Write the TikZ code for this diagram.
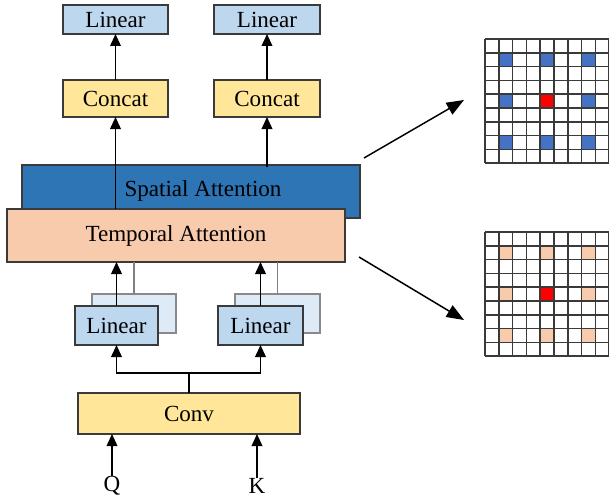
\documentclass[tikz,border=0pt]{standalone}
\usepackage{fontspec}
\setmainfont{Liberation Serif}
\usetikzlibrary{arrows.meta,calc}
\definecolor{linblue}{HTML}{BDD7EE}
\definecolor{linback}{HTML}{DEEBF7}
\definecolor{catyel}{HTML}{FFE699}
\definecolor{spblue}{HTML}{2E75B6}
\definecolor{tmpeach}{HTML}{F8CBAD}
\definecolor{cellblue}{HTML}{4472C4}
\definecolor{cellpeach}{HTML}{F8CBAD}
\definecolor{edge}{HTML}{3A3A3A}
\tikzset{
  sz/.style 2 args={minimum width=#1*0.75pt,minimum height=#2*0.75pt},
  box/.style={draw=edge,line width=0.8pt,inner sep=0pt,outer sep=0pt,
    font=\fontsize{17.3}{20}\selectfont,anchor=center},
  linbox/.style={box,fill=linblue},
  backbox/.style={draw=edge!60,line width=0.8pt,fill=linback,inner sep=0pt,outer sep=0pt},
  catbox/.style={box,fill=catyel},
  arr/.style={line width=1.1pt,-{Triangle[length=9pt,width=8pt]}},
  bigarr/.style={line width=1.1pt,-{Triangle[length=13pt,width=10pt]}},
  plain/.style={line width=1.1pt},
  grayline/.style={line width=1.1pt,draw=gray},
  gridline/.style={line width=1.2pt,draw=edge},
  lbl/.style={font=\fontsize{17.3}{20}\selectfont,inner sep=0pt}
}
\begin{document}
\begin{tikzpicture}[x=0.75pt,y=-0.75pt]
\useasboundingbox (0,0) rectangle (609,499);

% output heads
\node[linbox,sz={105}{29}] (lin1) at (115.5,19.5) {Linear};
\node[linbox,sz={106}{29}] (lin2) at (267,19.5) {Linear};
\node[catbox,sz={105}{37}] (cat1) at (115.5,98.5) {Concat};
\node[catbox,sz={106}{37}] (cat2) at (267,98.5) {Concat};

% attention blocks
\node[box,fill=spblue,sz={338}{53}] (spatial) at (191,191.5) {};
\node[lbl] (spatialtxt) at (203,191) {Spatial Attention};
\node[box,fill=tmpeach,sz={338}{53}] (temporal) at (176,235.5) {Temporal Attention};

% stacked linear projections
\node[backbox,sz={84}{39}] (lb1) at (134,313.5) {};
\node[backbox,sz={85}{39}] (lb2) at (277.5,313.5) {};
\node[linbox,sz={83}{39}] (lf1) at (116.5,325.5) {Linear};
\node[linbox,sz={85}{39}] (lf2) at (260.5,325.5) {Linear};

\node[catbox,sz={222}{41}] (conv) at (189,413.5) {Conv};
\node[lbl] (q) at (112,486) {Q};
\node[lbl] (k) at (257,486) {K};

% connectors
\draw[arr] (q.north) -- (q.north |- conv.south);
\draw[arr] (k.north) -- (k.north |- conv.south);
\coordinate (split) at ($(conv.north)+(0,-20)$);
\draw[plain] (conv.north) -- (split);
\draw[arr] (split) -| (lf1.south);
\draw[arr] (split) -| (lf2.south);
\draw[grayline] (lb1.north) -- (lb1.north |- temporal.south);
\draw[grayline] (lb2.north) -- (lb2.north |- temporal.south);
\draw[arr] (lf1.north) -- (lf1.north |- temporal.south);
\draw[arr] (lf2.north) -- (lf2.north |- temporal.south);
\draw[arr] (cat1.south |- temporal.north) -- (cat1.south);
\draw[arr] ($(cat2.south |- spatial.north)+(0,2)$) -- (cat2.south);
\draw[arr] (cat1.north) -- (lin1.south);
\draw[arr] (cat2.north) -- (lin2.south);

% dilated sampling grids
\def\cs{13.8}
\foreach \gy/\hc in {39/cellblue,232/cellpeach}{
  \foreach \i in {1,4,7}{
    \foreach \j in {1,4,7}{
      \fill[\hc] (485+\i*\cs,\gy+\j*\cs) rectangle ++(\cs,\cs);
    }
  }
  \fill[red] (485+4*\cs,\gy+4*\cs) rectangle ++(\cs,\cs);
  \foreach \n in {0,...,9}{
    \draw[gridline] (485+\n*\cs,\gy) -- ++(0,9*\cs);
    \draw[gridline] (485,\gy+\n*\cs) -- ++(9*\cs,0);
  }
}
\coordinate (p1) at (364,158);
\coordinate (p2) at (464,100);
\coordinate (p3) at (359,257);
\coordinate (p4) at (464,320);
\draw[bigarr] (p1) -- (p2);
\draw[bigarr] (p3) -- (p4);
\end{tikzpicture}
\end{document}
